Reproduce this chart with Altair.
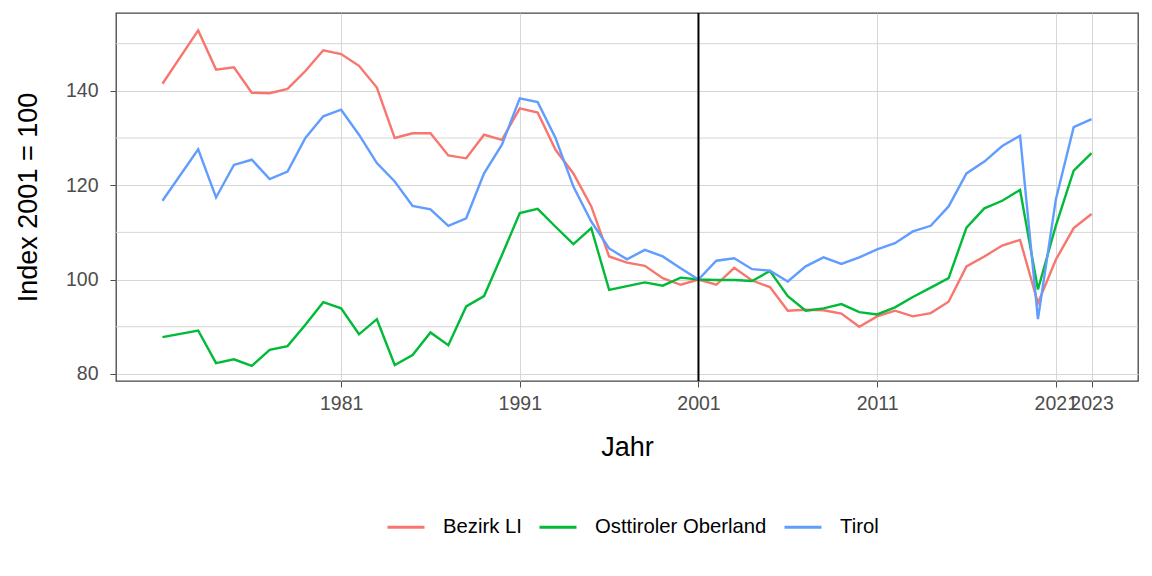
import altair as alt
import pandas as pd

years = [1971] + list(range(1973, 2024))

bezirk_li = [141.5, 152.8, 144.5, 145.0, 139.6, 139.5, 140.4, 144.2, 148.6, 147.8, 145.3, 140.7, 130.0,
             131.0, 131.0, 126.3, 125.7, 130.7, 129.6, 136.3, 135.4, 127.5, 122.5, 115.5, 104.9, 103.6,
             102.9, 100.3, 98.9, 100.0,
             98.9, 102.5, 99.8, 98.4, 93.4, 93.6, 93.5, 92.8, 90.0, 92.2, 93.4, 92.2, 92.9, 95.3, 102.8,
             104.9, 107.2, 108.4, 95.0, 104.2, 110.9, 113.9]

osttiroler_oberland = [87.8, 89.2, 82.3, 83.1, 81.7, 85.1, 85.9, 90.4, 95.2, 93.9, 88.4, 91.6, 81.9,
                       84.0, 88.8, 86.1, 94.3, 96.5, 105.2, 114.1, 115.0, 111.2, 107.5, 110.9, 97.8, 98.6,
                       99.4, 98.7, 100.4, 100.0,
                       99.9, 99.9, 99.7, 101.8, 96.5, 93.4, 93.9, 94.8, 93.1, 92.6, 94.1, 96.3, 98.3, 100.3,
                       111.0, 115.1, 116.7, 119.0, 97.9, 111.4, 123.1, 126.8]

tirol = [116.7, 127.6, 117.4, 124.3, 125.4, 121.3, 122.9, 130.0, 134.6, 136.0, 130.7, 124.7, 120.8,
         115.6, 114.9, 111.4, 113.0, 122.5, 128.6, 138.4, 137.6, 130.0, 119.7, 112.3, 106.6, 104.3,
         106.3, 104.9, 102.4, 100.0,
         104.0, 104.5, 102.2, 101.9, 99.6, 102.8, 104.7, 103.3, 104.7, 106.4, 107.7, 110.2, 111.4, 115.5,
         122.5, 125.0, 128.3, 130.5, 91.6, 116.9, 132.3, 134.0]

series_names = ["Bezirk LI", "Osttiroler Oberland", "Tirol"]
series_colors = ["#F8766D", "#00BA38", "#619CFF"]
x_ticks = [1981, 1991, 2001, 2011, 2021, 2023]
y_ticks = [80, 100, 120, 140]
y_minor = [90, 110, 130, 150]
ref_year = [2001]

rows = []
for name, vals in zip(series_names, [bezirk_li, osttiroler_oberland, tirol]):
    for yr, v in zip(years, vals):
        rows.append({"Jahr": yr, "Index": v, "Region": name})
df = pd.DataFrame(rows)

FONT = "Liberation Sans"
x_scale = alt.Scale(domain=[1968.4, 2025.6], nice=False, zero=False)
y_scale = alt.Scale(domain=[78.5, 156.5], nice=False, zero=False)

x_axis = alt.Axis(values=x_ticks, format="d", labelOverlap=False, labelFlush=False,
                  labelPadding=7, titlePadding=22, grid=True)
y_axis = alt.Axis(values=y_ticks, labelPadding=12, titlePadding=23, grid=True)

minor = alt.Chart(pd.DataFrame({"Index": y_minor})).mark_rule(
    color="#D6D6D6", strokeWidth=1
).encode(y=alt.Y("Index:Q", scale=y_scale, title="Index 2001 = 100", axis=y_axis))

lines = alt.Chart(df).mark_line(strokeWidth=2.4).encode(
    x=alt.X("Jahr:Q", scale=x_scale, title="Jahr", axis=x_axis),
    y=alt.Y("Index:Q", scale=y_scale, title="Index 2001 = 100", axis=y_axis),
    color=alt.Color("Region:N",
                    scale=alt.Scale(domain=series_names, range=series_colors),
                    legend=alt.Legend(title=None, orient="none", direction="horizontal",
                                      legendX=270, legendY=494,
                                      symbolType="stroke", symbolSize=1369, symbolStrokeWidth=3,
                                      labelFontSize=20.3, labelFont=FONT, labelColor="black",
                                      labelLimit=0, labelOffset=17, columnPadding=11)),
    order=alt.Order("Jahr:Q"),
)

vline = alt.Chart(pd.DataFrame({"Jahr": ref_year})).mark_rule(
    color="black", strokeWidth=2
).encode(x=alt.X("Jahr:Q", scale=x_scale, title="Jahr", axis=x_axis))

chart = alt.layer(minor, lines, vline).properties(
    width=1022, height=368,
    autosize=alt.AutoSizeParams(type="none"),
    padding={"left": 116, "top": 13, "right": 14, "bottom": 195},
    background="white",
).configure_view(
    stroke="#444444", strokeWidth=1.3
).configure_axis(
    labelFont=FONT, labelFontSize=19.5, labelColor="#4D4D4D",
    titleFont=FONT, titleFontSize=27, titleColor="black", titleFontWeight="normal",
    tickColor="#4D4D4D", tickSize=6, tickWidth=1,
    domain=False, gridColor="#D6D6D6", gridWidth=1,
)

chart.save("out.html", embed_options={"renderer": "svg", "actions": False})
